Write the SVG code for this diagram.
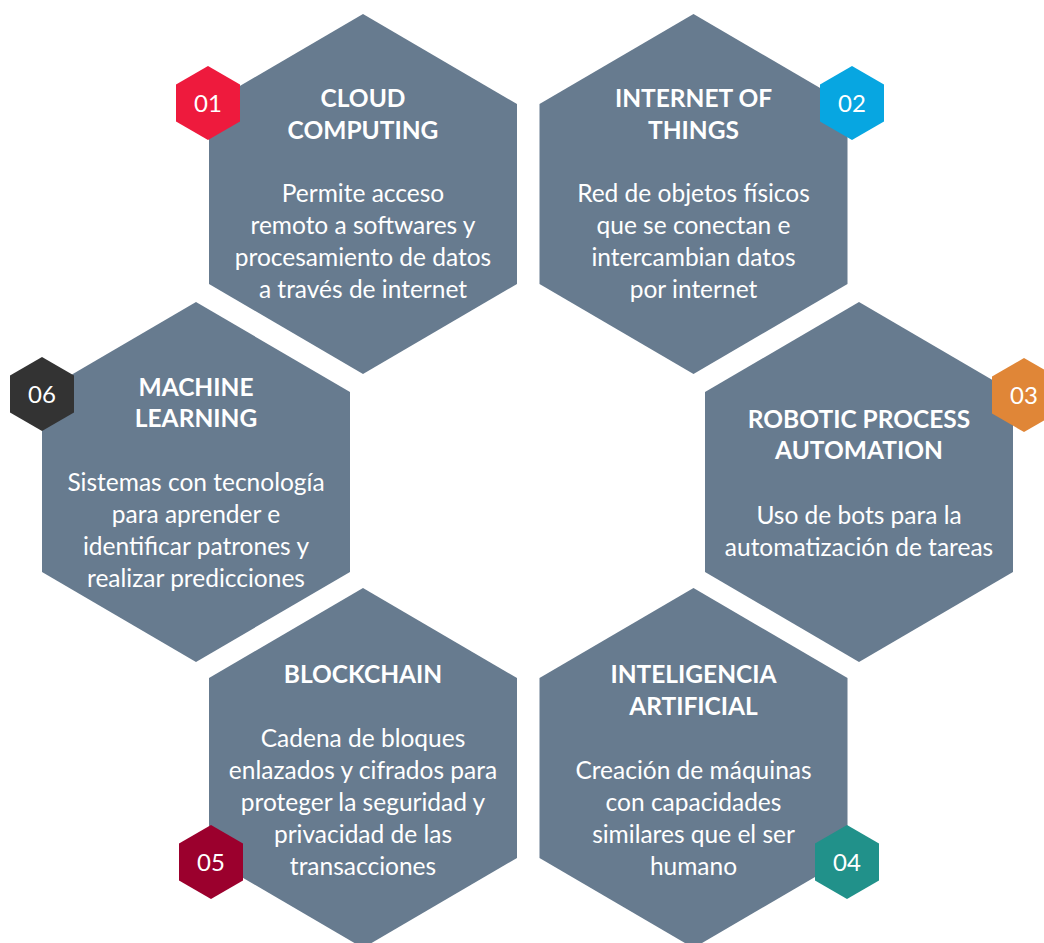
<svg xmlns="http://www.w3.org/2000/svg" xmlns:xlink="http://www.w3.org/1999/xlink" width="1044" height="943" viewBox="0 0 1044 943">
<style>
.big{fill:#677b8f}
.t{font-family:Lato,"Liberation Sans",sans-serif;font-weight:700;font-size:24.5px;fill:#ffffff;text-anchor:middle}
.b{font-family:Lato,"Liberation Sans",sans-serif;font-weight:400;font-size:24.5px;fill:#ffffff;text-anchor:middle}
.n{font-family:Lato,"Liberation Sans",sans-serif;font-weight:400;font-size:24px;fill:#ffffff;text-anchor:middle}
</style>
<defs>
<polygon id="hex" points="0,-180 154,-90 154,90 0,180 -154,90 -154,-90"/>
<polygon id="sh" points="0,-37 32,-18.5 32,18.5 0,37 -32,18.5 -32,-18.5"/>
</defs>
<rect width="1044" height="943" fill="#ffffff"/>
<g id="connectors"/>
<g id="node-cloud">
<use href="#hex" x="363" y="194" class="big"/>
<text class="t" x="363" y="107">CLOUD</text>
<text class="t" x="363" y="139">COMPUTING</text>
<text class="b" x="363" y="202">Permite acceso</text>
<text class="b" x="363" y="234">remoto a softwares y</text>
<text class="b" x="363" y="266">procesamiento de datos</text>
<text class="b" x="363" y="298">a través de internet</text>
</g>
<g id="node-iot">
<use href="#hex" x="693.5" y="194" class="big"/>
<text class="t" x="693.5" y="107">INTERNET OF</text>
<text class="t" x="693.5" y="139">THINGS</text>
<text class="b" x="693.5" y="202">Red de objetos físicos</text>
<text class="b" x="693.5" y="234">que se conectan e</text>
<text class="b" x="693.5" y="266">intercambian datos</text>
<text class="b" x="693.5" y="298">por internet</text>
</g>
<g id="node-ml">
<use href="#hex" x="196" y="482" class="big"/>
<text class="t" x="196" y="396">MACHINE</text>
<text class="t" x="196" y="427">LEARNING</text>
<text class="b" x="196" y="491">Sistemas con tecnología</text>
<text class="b" x="196" y="523">para aprender e</text>
<text class="b" x="196" y="555">identificar patrones y</text>
<text class="b" x="196" y="587">realizar predicciones</text>
</g>
<g id="node-rpa">
<use href="#hex" x="859" y="482" class="big"/>
<text class="t" x="859" y="428">ROBOTIC PROCESS</text>
<text class="t" x="859" y="459">AUTOMATION</text>
<text class="b" x="859" y="524">Uso de bots para la</text>
<text class="b" x="859" y="556">automatización de tareas</text>
</g>
<g id="node-blockchain">
<use href="#hex" x="363" y="768" class="big"/>
<text class="t" x="363" y="683">BLOCKCHAIN</text>
<text class="b" x="363" y="747">Cadena de bloques</text>
<text class="b" x="363" y="779">enlazados y cifrados para</text>
<text class="b" x="363" y="811">proteger la seguridad y</text>
<text class="b" x="363" y="843">privacidad de las</text>
<text class="b" x="363" y="875">transacciones</text>
</g>
<g id="node-ia">
<use href="#hex" x="693.5" y="768" class="big"/>
<text class="t" x="693.5" y="683">INTELIGENCIA</text>
<text class="t" x="693.5" y="715">ARTIFICIAL</text>
<text class="b" x="693.5" y="779">Creación de máquinas</text>
<text class="b" x="693.5" y="811">con capacidades</text>
<text class="b" x="693.5" y="843">similares que el ser</text>
<text class="b" x="693.5" y="875">humano</text>
</g>
<g id="badge-01">
<use href="#sh" x="208" y="103" fill="#ee1a3d"/>
<text class="n" x="208" y="112">01</text>
</g>
<g id="badge-02">
<use href="#sh" x="852" y="103" fill="#07a6e1"/>
<text class="n" x="852" y="112">02</text>
</g>
<g id="badge-03">
<use href="#sh" x="1024" y="395" fill="#e08637"/>
<text class="n" x="1024" y="404">03</text>
</g>
<g id="badge-04">
<use href="#sh" x="847" y="862" fill="#21918a"/>
<text class="n" x="847" y="871">04</text>
</g>
<g id="badge-05">
<use href="#sh" x="211" y="862" fill="#9b002d"/>
<text class="n" x="211" y="871">05</text>
</g>
<g id="badge-06">
<use href="#sh" x="42" y="394" fill="#333333"/>
<text class="n" x="42" y="403">06</text>
</g>
</svg>
